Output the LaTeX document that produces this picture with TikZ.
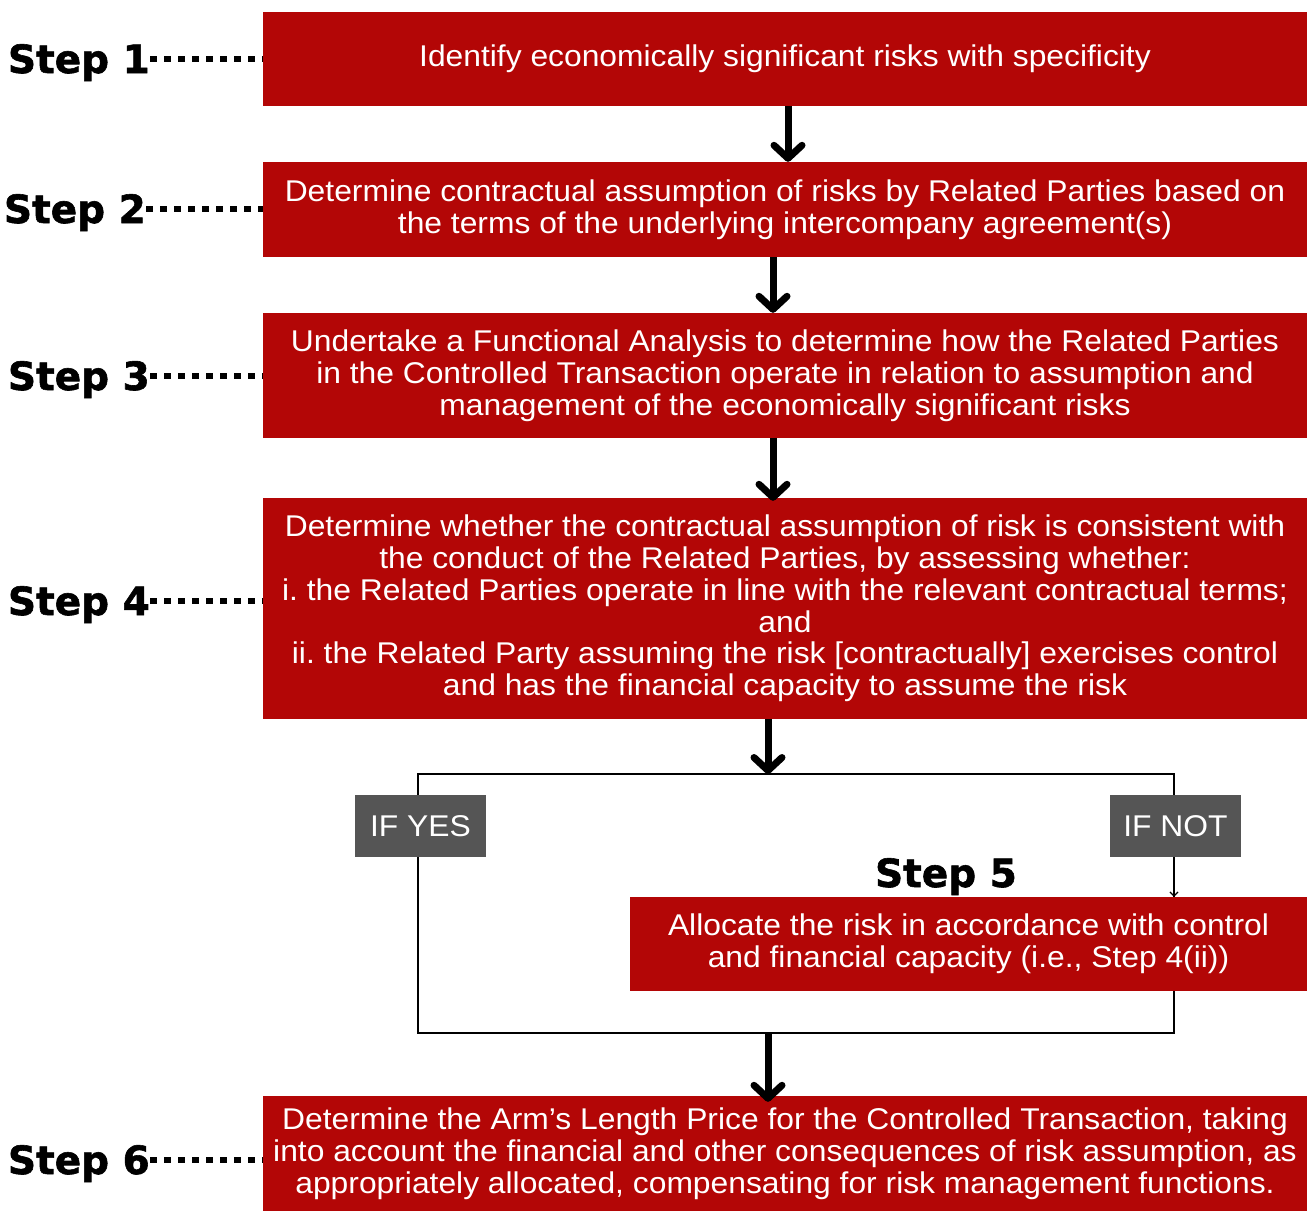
\documentclass[tikz,border=0pt]{standalone}
\usepackage{fontspec}
\setmainfont{Liberation Sans}[FakeStretch=1.06]
\newfontfamily\stepfont{DejaVu Sans}[BoldFeatures={FakeBold=1.5}]
\usetikzlibrary{arrows.meta}
\frenchspacing

\begin{document}
\begin{tikzpicture}[x=1pt,y=-1pt,every node/.style={font=\fontsize{30}{31.8}\selectfont}]
			% Define colors
			\definecolor{stepred}{RGB}{179, 6, 6}
			\definecolor{ifgrey}{RGB}{85, 85, 85}

			% Styles
			\tikzstyle{step_box} = [fill=stepred, text=white, inner sep=0pt, align=center, minimum width=1044pt]
			\tikzstyle{step_label} = [font=\stepfont\bfseries\fontsize{39}{40}\selectfont, inner sep=0pt, anchor=base east]
			\tikzstyle{if_box} = [fill=ifgrey, text=white, minimum width=131pt, minimum height=62pt, inner sep=0pt]
			\tikzstyle{dots} = [line width=6pt, dash pattern=on 7pt off 7pt]
			\tikzstyle{big_arrow} = [-{Straight Barb[round, length=13pt, width=28pt]}, line width=7pt]
			\tikzstyle{branch} = [line width=1.6pt]

			\useasboundingbox (0,0) rectangle (1307,1211);

			% Step boxes
			\node[step_box, minimum height=94pt] (s1) at (785, 59) {Identify economically significant risks with specificity};
			\node[step_box, minimum height=95pt] (s2) at (785, 209.5) {Determine contractual assumption of risks by Related Parties based on\\the terms of the underlying intercompany agreement(s)};
			\node[step_box, minimum height=125pt] (s3) at (785, 375.5) {Undertake a Functional Analysis to determine how the Related Parties\\in the Controlled Transaction operate in relation to assumption and\\management of the economically significant risks};
			\node[step_box, minimum height=221pt] (s4) at (785, 608.5) {Determine whether the contractual assumption of risk is consistent with\\the conduct of the Related Parties, by assessing whether:\\i. the Related Parties operate in line with the relevant contractual terms;\\and\\ii. the Related Party assuming the risk [contractually] exercises control\\and has the financial capacity to assume the risk};
			\node[step_box, minimum height=115pt] (s6) at (785, 1153.5) {Determine the Arm’s Length Price for the Controlled Transaction, taking\\into account the financial and other consequences of risk assumption, as\\appropriately allocated, compensating for risk management functions.};

			% Step labels
			\node[step_label] (l1) at (150, 73) {Step 1};
			\node[step_label] (l2) at (146, 223) {Step 2};
			\node[step_label] (l3) at (150, 390) {Step 3};
			\node[step_label] (l4) at (150, 615) {Step 4};
			\node[step_label, anchor=base] (l5) at (946, 887) {Step 5};
			\node[step_label] (l6) at (150, 1174) {Step 6};

			% Dotted leaders
			\foreach \n in {1,2,3,4,6}
				\draw[dots] ([yshift=14pt]l\n.base east) -- ([yshift=14pt]l\n.base east -| s\n.west);

			% Branch lines
			\coordinate (split) at (768, 774);
			\coordinate (join) at (768, 1033);
			\draw[branch] (418, 774) rectangle (1174, 1033);

			% If boxes and step 5
			\node[if_box] (yes) at (420.5, 826) {IF YES};
			\node[if_box] (no) at (1175.5, 826) {IF NOT};
			\node[step_box, minimum height=94pt, minimum width=677pt] (s5) at (968.5, 944) {Allocate the risk in accordance with control\\and financial capacity (i.e., Step 4(ii))};
			\draw[branch, -{Straight Barb[length=4pt, width=8pt]}, line width=1.2pt] (no.south -| 1174, 0) -- (s5.north -| 1174, 0);

			% Arrows between steps
			\draw[big_arrow] ([xshift=3pt]s1.south) -- ([xshift=3pt]s2.north);
			\draw[big_arrow] ([xshift=-12pt]s2.south) -- ([xshift=-12pt]s3.north);
			\draw[big_arrow] ([xshift=-12pt]s3.south) -- ([xshift=-12pt, yshift=-3pt]s4.north);
			\draw[big_arrow] (s4.south -| split) -- (split);
			\draw[big_arrow] (join) -- ([yshift=-6pt]s6.north -| join);

		\end{tikzpicture}
\end{document}
